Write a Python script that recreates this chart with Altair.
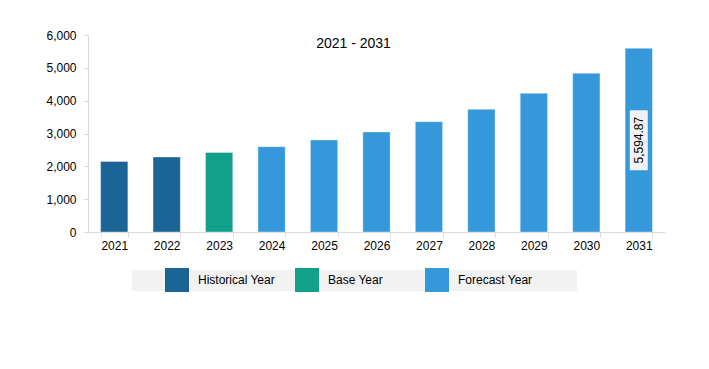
import altair as alt
import pandas as pd

years = ["2021", "2022", "2023", "2024", "2025", "2026", "2027", "2028", "2029", "2030", "2031"]
values = [2147, 2284, 2421, 2598, 2802, 3046, 3360, 3737, 4224, 4833, 5594.87]
kinds = ["Historical Year", "Historical Year", "Base Year"] + ["Forecast Year"] * 8
kind_order = ["Historical Year", "Base Year", "Forecast Year"]
kind_colors = ["#1A6496", "#13A08B", "#3498DB"]
label_year = ["2031"]
label_value = [5594.87]

FONT = "Liberation Sans"
W, H = 577, 197

df = pd.DataFrame({"year": years, "value": values, "kind": kinds})
lab = pd.DataFrame({"year": label_year, "value": label_value})
lab["mid"] = lab["value"] / 2
lab["text"] = lab["value"].map(lambda v: f"{v:,.2f}")

yaxis = alt.Axis(values=[0, 1000, 2000, 3000, 4000, 5000, 6000], format=",d",
                 labelFont=FONT, labelFontSize=12, labelColor="#000",
                 domainColor="#d9d9d9", tickColor="#d9d9d9", tickSize=4,
                 labelPadding=8, grid=False, labelOverlap=False, title=None)
yscale = alt.Scale(domain=[0, 6000])
xaxis = alt.Axis(labelAngle=0, labelFont=FONT, labelFontSize=12, labelColor="#000",
                 domainColor="#d9d9d9", tickColor="#d9d9d9", tickBand="extent",
                 tickSize=5, labelPadding=3, grid=False, title=None)
xscale = alt.Scale(paddingInner=0.48, paddingOuter=0.24)


def xenc():
    return alt.X("year:N", sort=years, title=None, scale=xscale, axis=xaxis)


bars = alt.Chart(df).mark_bar(stroke="#ffffff", strokeOpacity=0.35, strokeWidth=1).encode(
    x=xenc(),
    y=alt.Y("value:Q", title=None, scale=yscale, axis=yaxis),
    color=alt.Color("kind:N", sort=kind_order,
                    scale=alt.Scale(domain=kind_order, range=kind_colors),
                    legend=alt.Legend(title=None, orient="none", legendX=77, legendY=233,
                                      direction="horizontal", columns=3, gridAlign="all",
                                      symbolType="square",
                                      symbolSize=576, symbolStrokeWidth=0,
                                      labelFont=FONT, labelFontSize=12, labelColor="#000",
                                      labelOffset=9, columnPadding=20, padding=0)),
)

legend_bg = alt.Chart(pd.DataFrame({"a": [0]})).mark_rect(color="#f2f2f2").encode(
    x=alt.value(44), x2=alt.value(489), y=alt.value(235), y2=alt.value(256)
)

box = alt.Chart(lab).mark_point(
    shape="M-0.3,-1L0.3,-1L0.3,1L-0.3,1Z", size=3600, filled=True, fill="#f2f2f2",
    opacity=1, strokeWidth=0
).encode(x=xenc(), y=alt.Y("mid:Q", title=None, scale=yscale, axis=yaxis))

txt = alt.Chart(lab).mark_text(angle=270, font=FONT, fontSize=12, color="#000").encode(
    x=xenc(), y=alt.Y("mid:Q", title=None, scale=yscale, axis=yaxis), text="text:N"
)

chart = alt.layer(legend_bg, bars, box, txt).properties(
    width=W, height=H,
    title=alt.TitleParams("2021 - 2031", font=FONT, fontSize=14, fontWeight="normal",
                          color="#000", anchor="middle", dx=-23, dy=26),
    padding={"left": 80, "top": 27, "right": 36, "bottom": 129},
    autosize=alt.AutoSizeParams(type="none"),
).configure_view(stroke=None)

chart.save("out.html", embed_options={"renderer": "svg", "actions": False})
